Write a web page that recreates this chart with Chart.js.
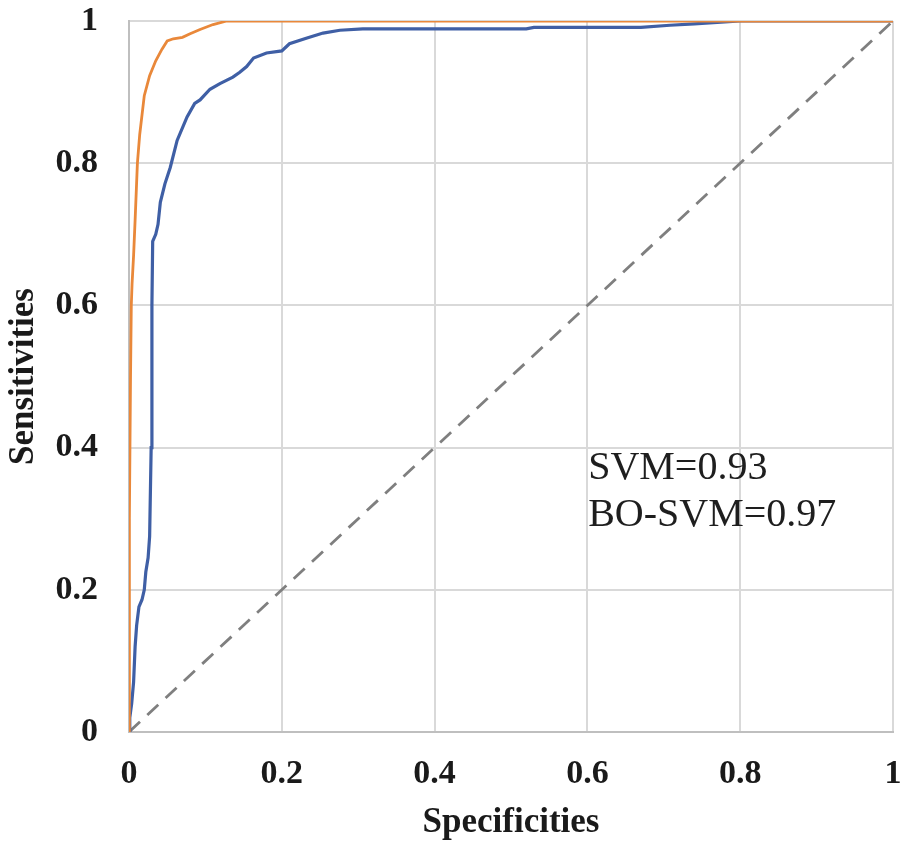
<!DOCTYPE html>
<html>
<head>
<meta charset="utf-8">
<script src="https://cdn.jsdelivr.net/npm/chart.js@4.4.1/dist/chart.umd.min.js"></script>
<style>
html,body{margin:0;padding:0;background:#fff}
#wrap{width:904px;height:847px;position:relative}
</style>
</head>
<body>
<div id="wrap"><canvas id="roc"></canvas></div>
<script>
// ROC curves: [specificity, sensitivity]
var svmX = [0,0.001,0.0035,0.006,0.008,0.01,0.013,0.017,0.02,0.022,0.025,0.027,0.029,0.030,0.031,0.035,0.038,0.041,0.047,0.054,0.063,0.076,0.086,0.093,0.106,0.119,0.136,0.145,0.154,0.163,0.18,0.2,0.21,0.233,0.254,0.276,0.306,0.52,0.53,0.67,0.708,0.74,0.8,1];
var svmY = [0,0.02,0.04,0.07,0.12,0.15,0.176,0.186,0.2,0.225,0.245,0.275,0.40,0.60,0.69,0.70,0.714,0.745,0.771,0.794,0.832,0.865,0.884,0.889,0.904,0.912,0.921,0.928,0.936,0.948,0.955,0.958,0.968,0.976,0.983,0.987,0.989,0.989,0.991,0.991,0.994,0.996,1,1];
var boX  = [0,0,0.001,0.002,0.003,0.004,0.006,0.008,0.011,0.014,0.02,0.027,0.035,0.043,0.05,0.058,0.07,0.08,0.093,0.11,0.128,1];
var boY  = [0,0.05,0.3,0.5,0.6,0.63,0.67,0.72,0.8,0.84,0.895,0.923,0.944,0.96,0.972,0.975,0.977,0.982,0.988,0.995,1,1];
var refX = [0,1];
var refY = [0,1];
var tickLabels = ['0','0.2','0.4','0.6','0.8','1'];
var annLines = ['SVM=0.93','BO-SVM=0.97'];
var annPos = {x:0.601, y:0.371, dy:0.067};

function pts(xs,ys){return xs.map(function(v,i){return {x:v,y:ys[i]}})}

var annPlugin = {
    id:'aucText',
    afterDatasetsDraw:function(chart){
        var ctx=chart.ctx, xA=chart.scales.x, yA=chart.scales.y;
        ctx.save();
        ctx.font="40px 'Liberation Serif', serif";
        ctx.fillStyle='#1e1e1e';ctx.textAlign='left';ctx.textBaseline='middle';
        annLines.forEach(function(t,i){
            ctx.fillText(t,xA.getPixelForValue(annPos.x),yA.getPixelForValue(annPos.y-i*annPos.dy));
        });
        ctx.restore();
    }
};

var tickFont={family:"'Liberation Serif', serif",size:34,weight:'bold',lineHeight:1.2};
var titleFont={family:"'Liberation Serif', serif",size:35,weight:'bold',lineHeight:1.2};

// keep the plot box where the picture has it: no automatic label padding
function noPad(s){s.paddingTop=0;s.paddingBottom=0;s.paddingLeft=0;s.paddingRight=0}

new Chart(document.getElementById('roc').getContext('2d'),{
    type:'line',
    data:{datasets:[
        {label:'BO-SVM',data:pts(boX,boY),borderColor:'#E9883A',borderWidth:2.8,pointRadius:0,tension:0,order:1},
        {label:'SVM',data:pts(svmX,svmY),borderColor:'#3F5FA5',borderWidth:3.2,pointRadius:0,tension:0,order:2},
        {label:'ref',data:pts(refX,refY),borderColor:'#7f7f7f',borderWidth:2.8,borderDash:[15,10],pointRadius:0,order:3}
    ]},
    options:{
        responsive:true,maintainAspectRatio:false,animation:false,
        layout:{padding:{top:21,right:11,left:0,bottom:0}},
        plugins:{legend:{display:false},tooltip:{enabled:false}},
        scales:{
            x:{type:'linear',min:0,max:1,
                ticks:{stepSize:0.2,color:'#1a1a1a',font:tickFont,padding:22,maxRotation:0,
                    callback:function(v,i){return tickLabels[i]}},
                grid:{color:'#d9d9d9',lineWidth:2,drawTicks:false},
                border:{display:true,color:'#bfbfbf',width:2},
                title:{display:true,text:'Specificities',color:'#1a1a1a',font:titleFont,padding:{top:0,bottom:3}},
                afterFit:function(s){s.height=115;noPad(s)}
            },
            y:{type:'linear',min:0,max:1,
                ticks:{stepSize:0.2,color:'#1a1a1a',font:tickFont,padding:31,
                    callback:function(v,i){return tickLabels[i]}},
                grid:{color:'#d9d9d9',lineWidth:2,drawTicks:false},
                border:{display:true,color:'#bfbfbf',width:2},
                title:{display:true,text:'Sensitivities',color:'#1a1a1a',font:titleFont,padding:{top:3,bottom:0}},
                afterFit:function(s){s.width=129;noPad(s)}
            }
        }
    },
    plugins:[annPlugin]
});
</script>
</body>
</html>
